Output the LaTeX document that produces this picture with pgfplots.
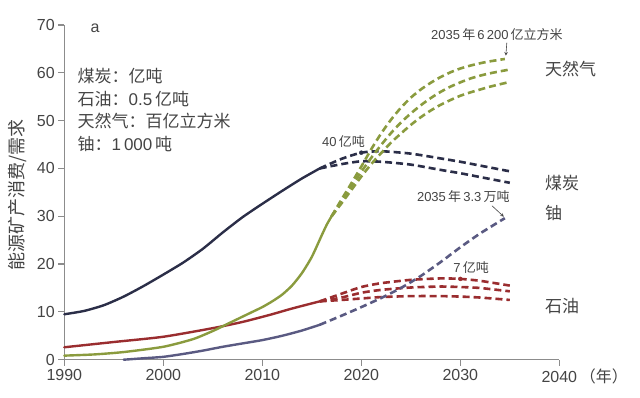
\documentclass[border=0pt]{standalone}
\usepackage{pgfplots}
\pgfplotsset{compat=1.18}
\usepackage{fontspec}
\setmainfont{Liberation Sans}
\newfontfamily\cjk{Noto Sans CJK SC}
\definecolor{coal}{HTML}{2B2E48}
\definecolor{gas}{HTML}{8A9B3E}
\definecolor{oil}{HTML}{9A2D2F}
\definecolor{uran}{HTML}{5A5A82}
\definecolor{txt}{HTML}{444444}
\definecolor{axc}{HTML}{8C8C8C}
\begin{document}
\begin{tikzpicture}
\path[use as bounding box] (-64.3pt,-37.3pt) rectangle (575.7pt,359.7pt);
\begin{axis}[
  at={(0,0)}, anchor=south west,
  scale only axis, width=495pt, height=334.7pt,
  xmin=1990, xmax=2040, ymin=0, ymax=70,
  axis lines=left,
  axis line style={-, draw=axc, line width=1.2pt},
  tick align=outside, major tick length=6pt,
  tick style={draw=axc, line width=1.2pt},
  xtick={1990,2000,2010,2020,2030,2040},
  xticklabels={1990,2000,2010,2020,2030,{2040\rlap{\,{\cjk （年）}}}},
  ytick={0,10,...,70},
  /pgf/number format/assume math mode=true,
  /pgf/number format/1000 sep={},
  tick label style={font=\fontsize{16}{16}\selectfont, text=txt},
  clip=false,
  solid/.style={line width=2.4pt, smooth, tension=0.4, line cap=round},
  dsh/.style={line width=2.6pt, smooth, tension=0.4, dash pattern=on 7pt off 4pt},
]
% coal
\addplot[solid, coal] coordinates {(1990,9.5)(1992,10.2)(1994,11.4)(1996,13.2)(1998,15.4)(2000,17.8)(2002,20.3)(2004,23.2)(2006,26.6)(2008,29.8)(2010,32.6)(2012,35.3)(2014,37.9)(2015.8,40.0)};
\addplot[dsh, coal] coordinates {(2015.8,40)(2018,42.0)(2020,43.3)(2022,43.6)(2025,43.1)(2028,42.1)(2030,41.4)(2032,40.6)(2035,39.4)};
\addplot[dsh, coal] coordinates {(2015.8,40)(2018,40.9)(2020,41.5)(2022,41.4)(2025,40.8)(2028,39.7)(2030,39.0)(2032,38.2)(2035,37.0)};
% oil
\addplot[solid, oil] coordinates {(1990,2.6)(1995,3.7)(2000,4.8)(2005,6.6)(2008,7.9)(2010.8,9.4)(2013,10.7)(2015.8,12.2)};
\addplot[dsh, oil] coordinates {(2015.8,12.2)(2018,13.8)(2020,15.2)(2022,16.0)(2025,16.7)(2028,17.0)(2030,16.9)(2032,16.5)(2035,15.5)};
\addplot[dsh, oil] coordinates {(2015.8,12.2)(2018,13.0)(2020,14.0)(2022,14.6)(2025,15.1)(2028,15.3)(2030,15.2)(2032,15.0)(2035,14.3)};
\addplot[dsh, oil] coordinates {(2015.8,12.2)(2018,12.5)(2020,12.8)(2022,13.1)(2025,13.3)(2028,13.3)(2030,13.2)(2032,13.0)(2035,12.5)};
% uranium
\addplot[solid, uran] coordinates {(1996,0)(1998,0.3)(2000,0.6)(2002,1.2)(2004,1.9)(2006,2.7)(2008,3.4)(2010,4.1)(2012,5.0)(2014,6.1)(2015.8,7.3)};
\addplot[dsh, uran] coordinates {(2015.8,7.3)(2018,9.2)(2020,11.0)(2022,12.9)(2024,15.0)(2026,17.5)(2028,20.4)(2030,23.5)(2032,26.4)(2034.5,29.6)};
% gas
\addplot[solid, gas] coordinates {(1990,0.85)(1993,1.1)(1996,1.6)(2000,2.7)(2003,4.3)(2005,6.0)(2006,7.0)(2007,8.0)(2008,9.0)(2009,10.0)(2010,11.0)(2011,12.2)(2012,13.6)(2013,15.5)(2014,18.1)(2015,21.5)(2016,26.0)(2016.5,28.2)(2017,30.0)};
\addplot[dsh, gas] coordinates {(2017,30.0)(2018,33.5)(2019,36.9)(2020,40.4)(2021,44.0)(2022,47.3)(2023,50.2)(2024,52.7)(2025,54.8)(2026,56.5)(2027,57.9)(2028,59.1)(2029,60.1)(2030,60.9)(2031,61.5)(2032,62.0)(2033,62.4)(2034.5,62.9)};
\addplot[dsh, gas] coordinates {(2017,30.0)(2018,33.1)(2019,36.2)(2020,39.3)(2021,42.2)(2022,44.9)(2023,47.4)(2024,49.6)(2025,51.5)(2026,53.2)(2027,54.7)(2028,56.0)(2029,57.1)(2030,58.0)(2031,58.8)(2032,59.4)(2033,59.9)(2035,60.7)};
\addplot[dsh, gas] coordinates {(2017,30.0)(2018,32.7)(2019,35.5)(2020,38.3)(2021,40.9)(2022,43.2)(2023,45.4)(2024,47.3)(2025,49.1)(2026,50.7)(2027,52.1)(2028,53.3)(2029,54.3)(2030,55.2)(2031,55.9)(2032,56.5)(2033,57.1)(2035,58.1)};
% markers
\addplot[only marks, mark=*, mark size=2pt, coal] coordinates {(2020,43.3)};
\addplot[only marks, mark=*, mark size=2pt, oil] coordinates {(2030,16.9)};
% annotations
\node[font=\fontsize{16}{16}\selectfont, text=txt] at (axis cs:1993.1,69.3) {a};
\begin{scope}[every node/.style={font=\fontsize{17}{17}\cjk, text=txt, anchor=west}]
\node at (axis cs:1991.0,59.3) {煤炭：亿吨};
\node at (axis cs:1991.0,54.6) {石油：\textrm{0.5}\,亿吨};
\node at (axis cs:1991.0,49.9) {天然气：百亿立方米};
\node at (axis cs:1991.0,45.2) {铀：\textrm{1\,000}\,吨};
\node at (axis cs:2038.2,60.7) {天然气};
\node at (axis cs:2038.2,37.0) {煤炭};
\node at (axis cs:2038.2,30.7) {铀};
\node at (axis cs:2038.2,11.3) {石油};
\end{scope}
\begin{scope}[every node/.style={font=\fontsize{13}{13}\selectfont, text=txt}]
\node at (axis cs:2033.7,68.0) {2035\,{\cjk 年}\,6\,200\,{\cjk 亿立方米}};
\node at (axis cs:2018.2,45.7) {40\,{\cjk 亿吨}};
\node at (axis cs:2030.3,34.2) {2035\,{\cjk 年}\,3.3\,{\cjk 万吨}};
\node at (axis cs:2031.1,19.2) {7\,{\cjk 亿吨}};
\end{scope}
\draw[txt, line width=0.6pt, -stealth] (axis cs:2034.7,66.3) -- (axis cs:2034.6,63.6);
\draw[txt, line width=0.6pt, -stealth] (axis cs:2033.2,32.2) -- (axis cs:2034.4,29.9);
\node[rotate=90, font=\fontsize{18}{18}\cjk, text=txt] at (axis cs:1985.3,34.5) {能源矿产消费/需求};
\end{axis}
\end{tikzpicture}
\end{document}
